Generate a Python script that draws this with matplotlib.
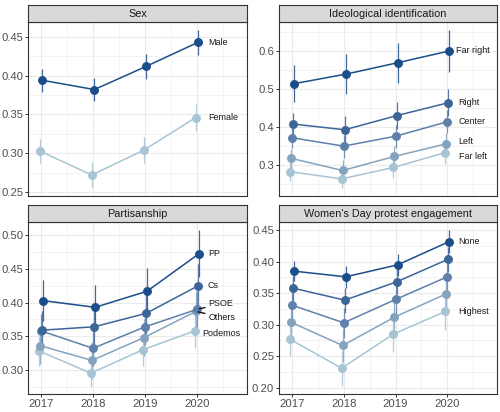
import matplotlib
matplotlib.use("Agg")
import matplotlib.pyplot as plt
from matplotlib.ticker import MultipleLocator, FormatStrFormatter

plt.rcParams["font.family"] = ["Liberation Sans", "DejaVu Sans"]

years = [2017, 2018, 2019, 2020]

# ---- data (groups ordered darkest -> lightest) ----
sex_groups = ["Male", "Female"]
sex_values = [[0.394, 0.382, 0.412, 0.443],
              [0.303, 0.272, 0.304, 0.346]]
sex_errors = [[0.015, 0.015, 0.016, 0.016],
              [0.016, 0.017, 0.017, 0.017]]

ideo_groups = ["Far right", "Right", "Center", "Left", "Far left"]
ideo_values = [[0.513, 0.538, 0.568, 0.599],
               [0.407, 0.392, 0.429, 0.463],
               [0.371, 0.349, 0.375, 0.413],
               [0.317, 0.285, 0.322, 0.355],
               [0.282, 0.263, 0.293, 0.332]]
ideo_errors = [[0.048, 0.053, 0.053, 0.055],
               [0.030, 0.035, 0.035, 0.036],
               [0.027, 0.030, 0.030, 0.030],
               [0.025, 0.028, 0.028, 0.028],
               [0.025, 0.024, 0.027, 0.030]]

part_groups = ["PP", "Cs", "PSOE", "Others", "Podemos"]
part_values = [[0.403, 0.393, 0.417, 0.473],
               [0.359, 0.364, 0.384, 0.425],
               [0.358, 0.332, 0.364, 0.390],
               [0.336, 0.314, 0.348, 0.387],
               [0.328, 0.295, 0.330, 0.358]]
part_errors = [[0.031, 0.033, 0.035, 0.035],
               [0.028, 0.030, 0.030, 0.032],
               [0.025, 0.027, 0.027, 0.028],
               [0.027, 0.028, 0.028, 0.030],
               [0.022, 0.020, 0.024, 0.026]]

wd_groups = ["None", "", "", "", "Highest"]
wd_values = [[0.385, 0.376, 0.395, 0.432],
             [0.358, 0.339, 0.368, 0.404],
             [0.331, 0.303, 0.340, 0.376],
             [0.304, 0.267, 0.312, 0.349],
             [0.277, 0.231, 0.285, 0.321]]
wd_errors = [[0.016, 0.017, 0.018, 0.018],
             [0.020, 0.020, 0.020, 0.020],
             [0.022, 0.024, 0.024, 0.024],
             [0.025, 0.027, 0.028, 0.028],
             [0.026, 0.028, 0.029, 0.030]]

titles = ["Sex", "Ideological identification", "Partisanship",
          "Women's Day protest engagement"]

# ---- styling ----
pal5 = ["#1b4d89", "#3c6598", "#5e80aa", "#83a3bf", "#a6c4d4"]
pal2 = ["#1b4d89", "#a6c4d4"]
grid_c = "#ebebeb"
border_c = "#333333"
tick_lab_c = "#4d4d4d"
text_c = "#1a1a1a"

# panel layout in pixels (x0, x1, y_top, y_bottom) of the plotting area
W, H = 500, 412
panels_px = [(28, 247, 22, 196), (279, 497, 22, 196),
             (28, 247, 222, 394), (279, 497, 222, 394)]
strip_h = 17

ylims = [(0.245, 0.469), (0.218, 0.675), (0.264, 0.520), (0.190, 0.463)]
ymajor = [0.05, 0.1, 0.05, 0.05]
yfmt = ["%.2f", "%.1f", "%.2f", "%.2f"]

# label layout: (dx, y) per group; None => no label; y None => at point
label_layout = [
    [(0.22, None), (0.22, None)],
    [(0.17, None), (0.22, 0.464), (0.22, 0.413), (0.22, 0.361), (0.22, 0.322)],
    [(0.21, None), (0.21, None), (0.22, 0.398), (0.22, 0.378), (0.10, 0.3545)],
    [(0.22, None), None, None, None, (0.22, None)],
]
segment_groups = {2: [2, 3]}

data = [(sex_groups, sex_values, sex_errors),
        (ideo_groups, ideo_values, ideo_errors),
        (part_groups, part_values, part_errors),
        (wd_groups, wd_values, wd_errors)]

fig = plt.figure(figsize=(W / 100, H / 100), dpi=100)

for k, (groups, vals, errs) in enumerate(data):
    x0, x1, yt, yb = panels_px[k]
    ax = fig.add_axes([x0 / W, 1 - yb / H, (x1 - x0) / W, (yb - yt) / H])
    sax = fig.add_axes([x0 / W, 1 - yt / H, (x1 - x0) / W, strip_h / H])
    sax.set_facecolor("#d9d9d9")
    sax.set_xticks([]); sax.set_yticks([])
    for s in sax.spines.values():
        s.set_color(border_c); s.set_linewidth(0.8)
    sax.text(0.5, 0.47, titles[k], ha="center", va="center", fontsize=7.8,
             color=text_c, transform=sax.transAxes)

    n = len(groups)
    cols = pal2 if n == 2 else pal5
    width = 0.1
    for i in range(n):
        off = ((n - 1 - i) - (n - 1) / 2) * width / n
        xs = [y + off for y in years]
        c = cols[i]
        v = vals[i]
        e = errs[i]
        ax.vlines(xs, [a - b for a, b in zip(v, e)], [a + b for a, b in zip(v, e)],
                  color=c, lw=0.9, alpha=0.85, zorder=2 + i * 0.01)
    for i in range(n - 1, -1, -1):
        off = ((n - 1 - i) - (n - 1) / 2) * width / n
        xs = [y + off for y in years]
        ax.plot(xs, vals[i], color=cols[i], lw=1.1, zorder=3,
                marker="o", ms=5.4, mec=cols[i], mfc=cols[i])

    # labels
    for i in range(n):
        lay = label_layout[k][i]
        if lay is None or not groups[i]:
            continue
        off = ((n - 1 - i) - (n - 1) / 2) * width / n
        dx, ly = lay
        px, py = years[-1] + off, vals[i][-1]
        if ly is None:
            ly = py
        lx = years[-1] + dx
        if i in segment_groups.get(k, []):
            ax.annotate(groups[i], xy=(px, py), xytext=(lx, ly),
                        ha="left", va="center", fontsize=6.5, color=text_c,
                        arrowprops=dict(arrowstyle="-", color="black", lw=0.9,
                                        shrinkA=0.5, shrinkB=1.5), zorder=5)
        else:
            ax.text(lx, ly, groups[i], ha="left", va="center", fontsize=6.5,
                    color=text_c, zorder=5)

    ax.set_xlim(2016.75, 2020.96)
    ax.set_ylim(*ylims[k])
    ax.xaxis.set_major_locator(MultipleLocator(1))
    ax.xaxis.set_minor_locator(MultipleLocator(0.5))
    ax.yaxis.set_major_locator(MultipleLocator(ymajor[k]))
    ax.yaxis.set_minor_locator(MultipleLocator(ymajor[k] / 2))
    ax.yaxis.set_major_formatter(FormatStrFormatter(yfmt[k]))
    ax.grid(which="major", color=grid_c, lw=0.8, zorder=0)
    ax.grid(which="minor", color=grid_c, lw=0.4, zorder=0)
    ax.set_axisbelow(True)
    ax.tick_params(axis="both", which="major", length=2.5, width=0.7,
                   color=border_c, labelcolor=tick_lab_c, labelsize=8.1, pad=1.0)
    ax.tick_params(axis="both", which="minor", length=0)
    if k < 2:
        ax.tick_params(axis="x", which="major", length=0, labelbottom=False)
    for s in ax.spines.values():
        s.set_color(border_c); s.set_linewidth(0.8)

fig.savefig("out.png", dpi=100, facecolor="white")
